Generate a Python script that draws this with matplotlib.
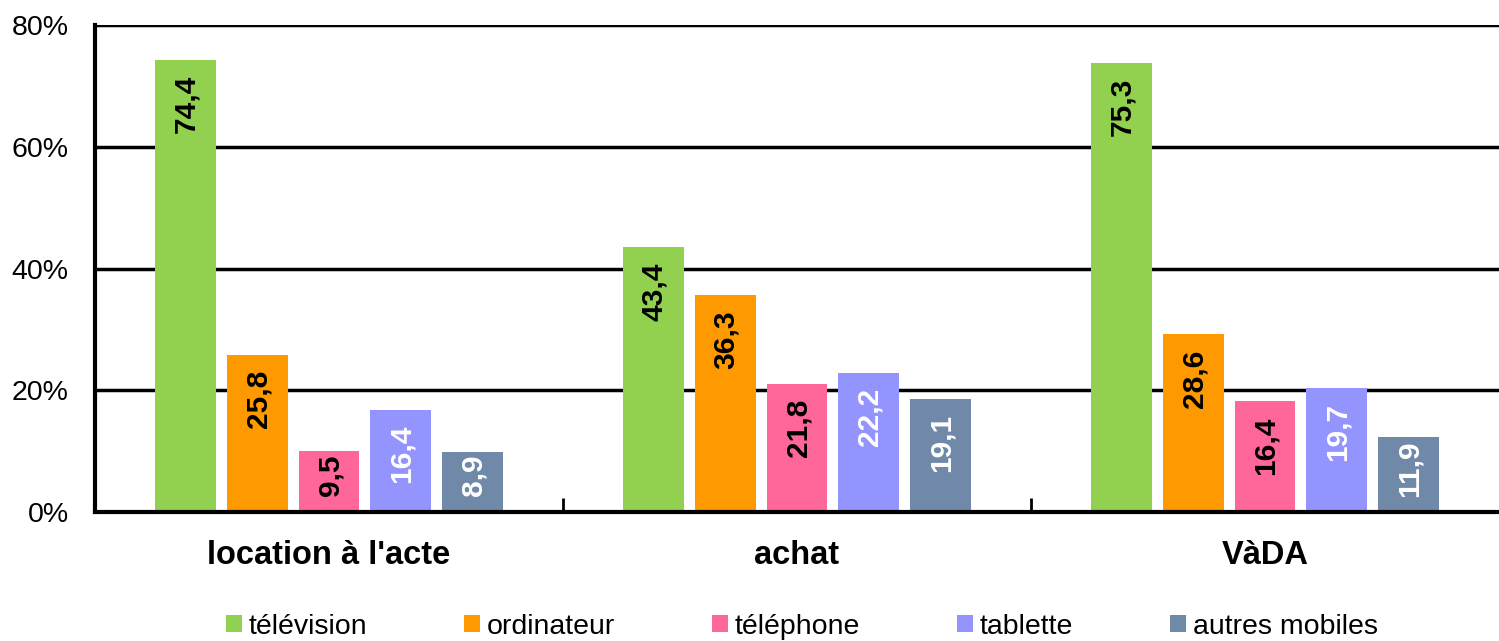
import matplotlib.pyplot as plt
from matplotlib.ticker import FixedLocator
import numpy as np

plt.rcParams['font.family'] = ['Liberation Sans', 'DejaVu Sans']

categories = ["location à l'acte", "achat", "VàDA"]
series = ["télévision", "ordinateur", "téléphone", "tablette", "autres mobiles"]
colors = ["#92D050", "#FF9900", "#FF6699", "#9494FF", "#7189A9"]
label_colors = ["black", "black", "black", "white", "white"]

# bar heights as drawn (%)
heights = [
    [74.3, 43.5, 73.8],
    [25.8, 35.6, 29.2],
    [10.0, 21.0, 18.2],
    [16.8, 22.8, 20.4],
    [9.9, 18.6, 12.3],
]
# printed labels
labels = [
    ["74,4", "43,4", "75,3"],
    ["25,8", "36,3", "28,6"],
    ["9,5", "21,8", "16,4"],
    ["16,4", "22,2", "19,7"],
    ["8,9", "19,1", "11,9"],
]
yticks = [0, 20, 40, 60, 80]

fig = plt.figure(figsize=(14.99, 6.41), dpi=100)
ax = fig.add_axes([0.0634, 0.2012, 0.9366, 0.7598])

x = np.arange(len(categories))
step = 0.1535
width = 0.13
anns = []
for i, s in enumerate(series):
    pos = x + (i - 2) * step
    ax.bar(pos, heights[i], width, color=colors[i], label=s, zorder=3)
    for p, h, t in zip(pos, heights[i], labels[i]):
        a = ax.annotate(t, (p, h), xytext=(1, -15), textcoords="offset pixels",
                        rotation=90, ha="center", va="top", fontsize=21.5,
                        fontweight="bold", color=label_colors[i], zorder=4)
        anns.append((a, h))

ax.set_xlim(-0.5, 2.5)
ax.set_ylim(0, 80)
ax.set_yticks(yticks)
ax.set_yticklabels([f"{v}%" for v in yticks], fontsize=20.5)
ax.yaxis.grid(True, color="black", linewidth=2.5, zorder=0)
ax.tick_params(axis="y", length=0, pad=19)

ax.set_xticks(x)
ax.set_xticklabels(categories, fontsize=23.5, fontweight="bold")
ax.tick_params(axis="x", which="major", length=0, pad=20)
ax.xaxis.set_minor_locator(FixedLocator([0.5, 1.5]))
ax.tick_params(axis="x", which="minor", direction="in", length=10, width=2)

for sp in ["top", "right"]:
    ax.spines[sp].set_visible(False)
for sp in ["left", "bottom"]:
    ax.spines[sp].set_linewidth(3)
    ax.spines[sp].set_zorder(5)

fig.legend(loc="center", bbox_to_anchor=(0.535, 0.022), ncol=5,
           frameon=False, fontsize=20.5, handlelength=0.55, handleheight=0.55,
           handletextpad=0.25, columnspacing=3.4)

# labels that don't fit with the usual gap move up to the bar top
fig.canvas.draw()
r = fig.canvas.get_renderer()
for a, h in anns:
    bar_px = ax.transData.transform((0, h))[1] - ax.transData.transform((0, 0))[1]
    if bar_px < a.get_window_extent(r).height + 36:
        a.xyann = (1, -3)

fig.savefig("out.png", dpi=100)
